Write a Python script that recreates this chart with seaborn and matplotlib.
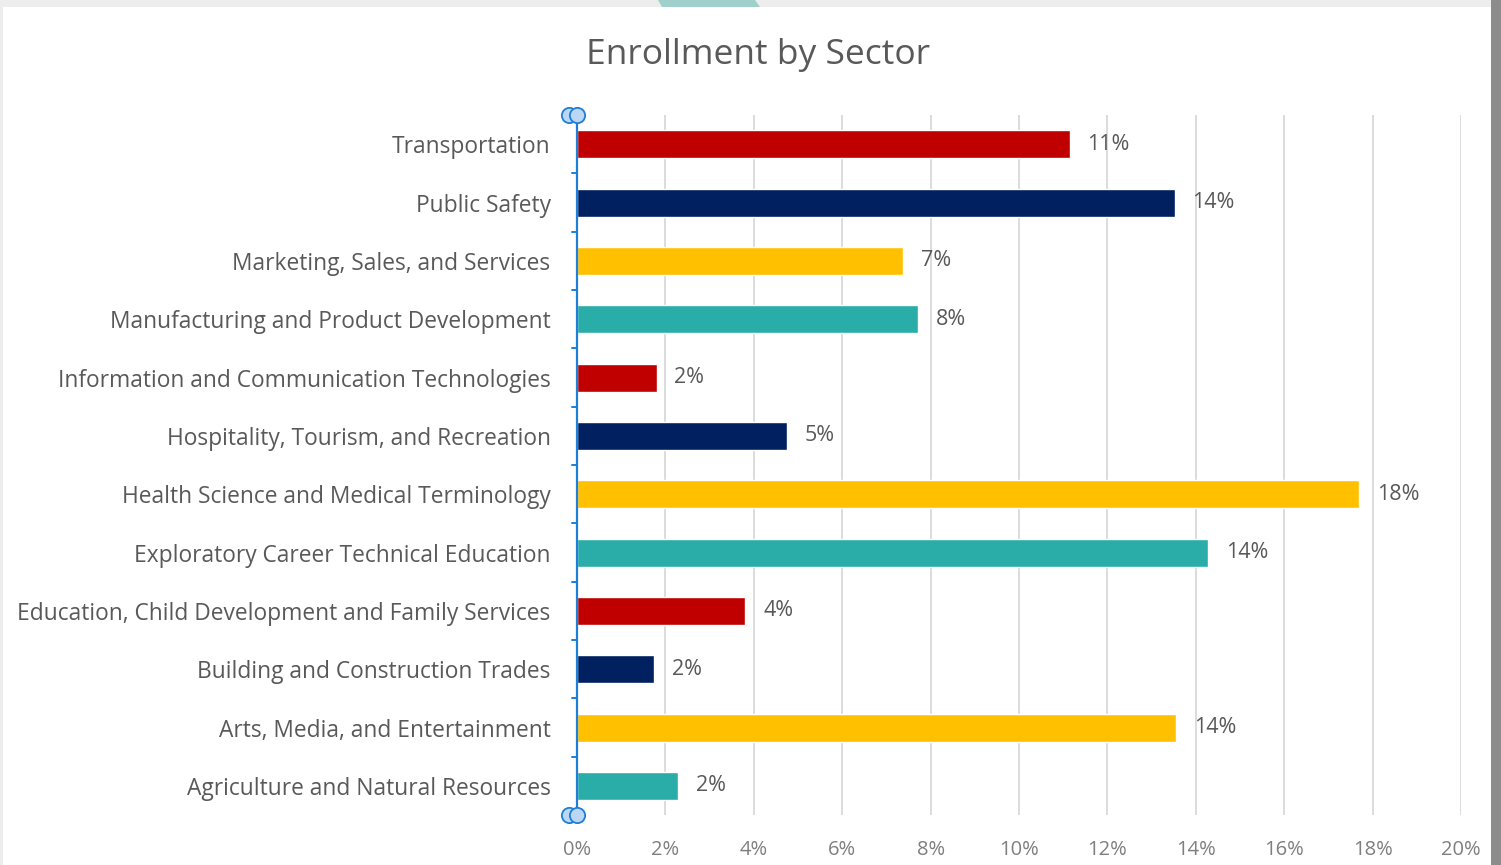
import numpy as np
import pandas as pd
import matplotlib
matplotlib.use("Agg")
import matplotlib.pyplot as plt
from matplotlib.patches import Rectangle, Polygon
from matplotlib.ticker import FuncFormatter, MultipleLocator
import seaborn as sns

sectors = [
    "Transportation",
    "Public Safety",
    "Marketing, Sales, and Services",
    "Manufacturing and Product Development",
    "Information and Communication Technologies",
    "Hospitality, Tourism, and Recreation",
    "Health Science and Medical Terminology",
    "Exploratory Career Technical Education",
    "Education, Child Development and Family Services",
    "Building and Construction Trades",
    "Arts, Media, and Entertainment",
    "Agriculture and Natural Resources",
]
share = [0.1115, 0.1352, 0.0738, 0.0772, 0.0180, 0.0476,
         0.1770, 0.1428, 0.0381, 0.0175, 0.1356, 0.0229]
bar_colors = ["#C00000", "#002060", "#FFC000", "#2AADA8"] * 3

sns.set_theme(style="white")
plt.rcParams["font.family"] = ["Open Sans", "DejaVu Sans"]

df = pd.DataFrame({"sector": sectors, "share": share})

fig = plt.figure(figsize=(15.01, 8.65), dpi=100)
ax = fig.add_axes([577 / 1501, 1 - 815 / 865, (1461 - 577) / 1501, 700 / 865])

sns.barplot(data=df, x="share", y="sector", hue="sector", palette=bar_colors,
            legend=False, width=0.48, saturation=1, ax=ax)

ax.set_xlim(0, 0.20)
ax.set_ylim(11.5, -0.5)
ax.xaxis.set_major_locator(MultipleLocator(0.02))
ax.xaxis.set_major_formatter(FuncFormatter(lambda v, _: f"{v * 100:.0f}%"))
ax.grid(axis="x", color="#D9D9D9", linewidth=1.3)
ax.set_axisbelow(True)
for side in ["top", "right", "bottom"]:
    ax.spines[side].set_visible(False)
ax.spines["left"].set_color("#1F7FD6")
ax.spines["left"].set_linewidth(1.6)
ax.set_xlabel("")
ax.set_ylabel("")
ax.tick_params(axis="x", length=0, labelsize=14.5, labelcolor="#7F7F7F", pad=18)
ax.tick_params(axis="y", length=0, labelsize=16.4, labelcolor="#595959", pad=19)

# small tick marks between categories on the selected axis
for k in np.arange(-0.5, 12, 1.0):
    ax.plot([-0.0012, 0], [k, k], color="#1F7FD6", lw=1.4, clip_on=False)

# axis selection handles
for yy in [-0.5, 11.5]:
    for dx in [-0.0017, 0.0]:
        ax.plot([dx], [yy], marker="o", ms=11, markerfacecolor="#BBD7F5",
                markeredgecolor="#1F7FD6", mew=1.3, clip_on=False, zorder=5)

for i, v in enumerate(share):
    ax.text(v + 0.0040, i, f"{v * 100:.0f}%", va="center", ha="left",
            fontsize=15.5, color="#595959")

fig.text(758 / 1501, 1 - 55 / 865, "Enrollment by Sector", ha="center", va="center",
         fontsize=25.5, color="#595959")

# window chrome around the pasted chart
fig.patches.append(Rectangle((0, 1 - 7 / 865), 1, 7 / 865, transform=fig.transFigure,
                             facecolor="#EDEDED", edgecolor="none"))
fig.patches.append(Polygon([(658 / 1501, 1), (755 / 1501, 1), (760 / 1501, 1 - 7 / 865),
                            (662 / 1501, 1 - 7 / 865)], closed=True, transform=fig.transFigure,
                           facecolor="#9FD0CC", edgecolor="none"))
fig.patches.append(Rectangle((1491 / 1501, 0), 10 / 1501, 1, transform=fig.transFigure,
                             facecolor="#8C8C8C", edgecolor="none"))
fig.patches.append(Rectangle((0, 0), 3 / 1501, 1, transform=fig.transFigure,
                             facecolor="#EDEDED", edgecolor="none"))

fig.savefig("out.png", dpi=100, facecolor="white")
